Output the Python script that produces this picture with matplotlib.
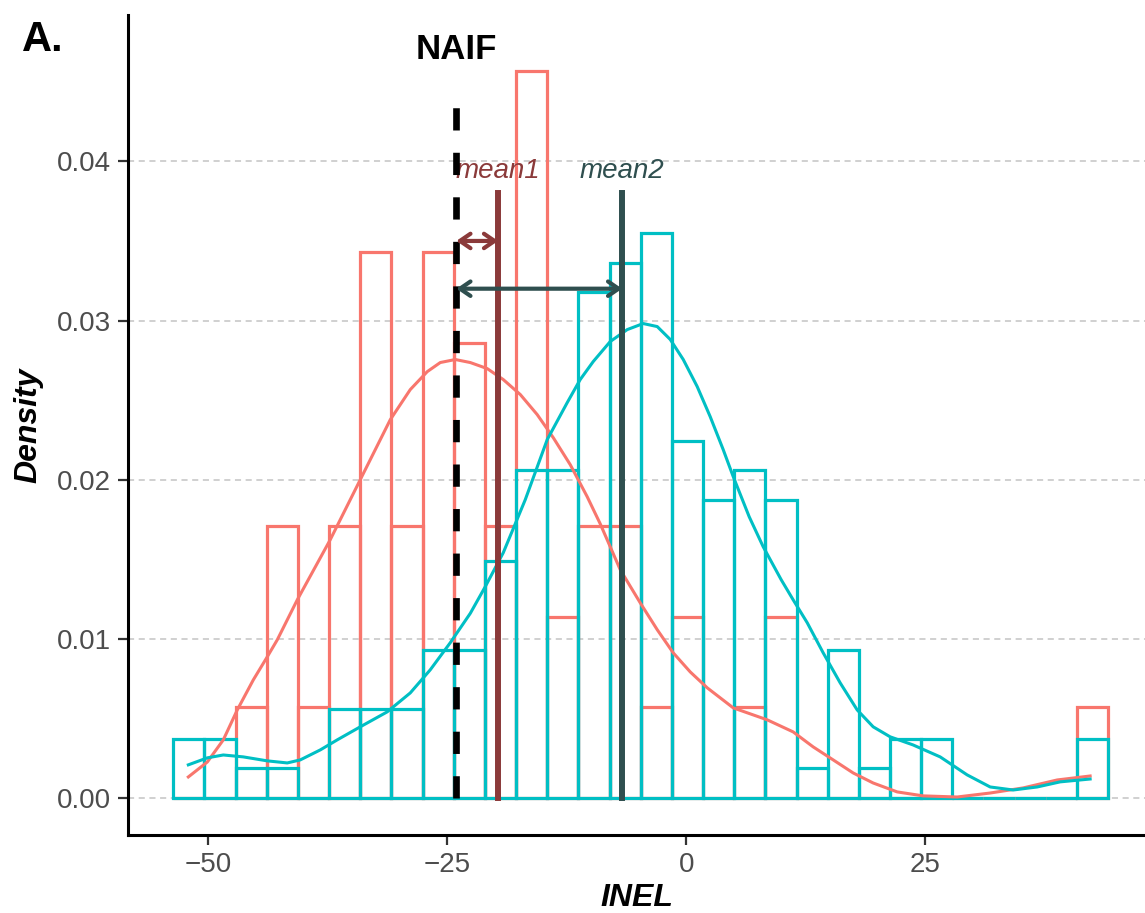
import numpy as np
import matplotlib
matplotlib.use('Agg')
import matplotlib.pyplot as plt

plt.rcParams['font.family'] = ['Liberation Sans', 'DejaVu Sans']

# histogram bins (30 bins, as in ggplot default)
bin_start = -53.66
bin_width = 3.26
hist_g1 = [0, 0, 0.0057, 0.0171, 0.0057, 0.0171, 0.0343, 0.0171, 0.0343, 0.0286,
           0.0171, 0.0457, 0.0114, 0.0171, 0.0171, 0.0057, 0.0114, 0, 0.0057, 0.0114,
           0, 0, 0, 0, 0, 0, 0, 0, 0, 0.0057]
hist_g2 = [0.0037, 0.0037, 0.0019, 0.0019, 0, 0.0056, 0.0056, 0.0056, 0.0093, 0.0093,
           0.0149, 0.0206, 0.0206, 0.0318, 0.0336, 0.0355, 0.0224, 0.0187, 0.0206, 0.0187,
           0.0019, 0.0093, 0.0019, 0.0037, 0.0037, 0, 0, 0, 0, 0.0037]

# density curves
dens_x1 = [-52.09, -50.10, -48.43, -46.97, -45.29, -43.83, -42.78, -40.69, -37.24,
           -34.10, -30.96, -28.87, -27.09, -25.73, -24.16, -22.59, -20.82, -19.14,
           -17.36, -15.59, -13.91, -12.13, -10.36, -9.00, -6.90, -4.81, -3.03, -1.36,
           0.42, 2.20, 4.92, 8.47, 11.19, 13.28, 15.38, 17.47, 19.56, 22.07, 24.79,
           28.35, 31.80, 35.25, 38.81, 42.26]
dens_y1 = [0.00132, 0.00226, 0.00365, 0.00553, 0.00742, 0.00887, 0.00994, 0.01245,
           0.01623, 0.02000, 0.02377, 0.02566, 0.02679, 0.02736, 0.02755, 0.02736,
           0.02698, 0.02629, 0.02535, 0.02409, 0.02264, 0.02094, 0.01893, 0.01723,
           0.01434, 0.01226, 0.01057, 0.00912, 0.00792, 0.00692, 0.00566, 0.00491,
           0.00415, 0.00321, 0.00239, 0.00157, 0.00094, 0.00038, 0.00013, 0.00006,
           0.00031, 0.00063, 0.00113, 0.00138]
dens_x2 = [-52.09, -50.10, -48.43, -46.34, -43.83, -41.74, -40.38, -38.28, -36.51,
           -34.10, -31.28, -28.87, -26.78, -24.69, -22.59, -21.03, -19.14, -16.84,
           -14.54, -12.45, -11.09, -9.73, -7.95, -6.17, -4.50, -3.03, -1.67, -0.31,
           1.15, 2.51, 3.87, 4.92, 6.59, 8.05, 9.94, 11.19, 12.66, 14.33, 16.11,
           17.89, 19.56, 21.34, 23.74, 26.57, 29.39, 31.80, 34.21, 36.72, 39.12, 42.26]
dens_y2 = [0.00208, 0.00252, 0.00270, 0.00258, 0.00233, 0.00220, 0.00239, 0.00302,
           0.00365, 0.00447, 0.00541, 0.00660, 0.00805, 0.00975, 0.01160, 0.01327,
           0.01541, 0.01874, 0.02252, 0.02484, 0.02629, 0.02742, 0.02868, 0.02943,
           0.02981, 0.02962, 0.02881, 0.02755, 0.02585, 0.02396, 0.02189, 0.02019,
           0.01767, 0.01579, 0.01371, 0.01245, 0.01101, 0.00912, 0.00723, 0.00553,
           0.00447, 0.00384, 0.00333, 0.00258, 0.00145, 0.00069, 0.00050, 0.00069,
           0.00101, 0.00119]

naif = -24.06
mean1 = -19.67
mean2 = -6.69

x_ticks = [-50, -25, 0, 25]
y_ticks = [0.00, 0.01, 0.02, 0.03, 0.04]

red = '#F8766D'
cyan = '#00BFC4'
brown = '#8B3A3A'
slate = '#2F4F4F'

fig = plt.figure(figsize=(11.45, 9.13), dpi=100)
ax = fig.add_axes([0.1118, 0.0854, 0.8882, 0.8982])

edges = bin_start + np.arange(len(hist_g1)) * bin_width
ax.bar(edges, hist_g1, width=bin_width, align='edge',
       fill=False, edgecolor=red, linewidth=2.3, zorder=2)
ax.bar(edges, hist_g2, width=bin_width, align='edge',
       fill=False, edgecolor=cyan, linewidth=2.3, zorder=2.1)

ax.plot(dens_x1, dens_y1, color=red, linewidth=2.2, zorder=3,
        solid_joinstyle='round')
ax.plot(dens_x2, dens_y2, color=cyan, linewidth=2.2, zorder=3.1,
        solid_joinstyle='round')

# reference lines
ax.plot([naif, naif], [0, 0.0435], color='black', linewidth=4.8,
        linestyle=(0, (3.34, 3.34)), zorder=4)
ax.plot([mean1, mean1], [0, 0.038], color=brown, linewidth=4.3, zorder=4)
ax.plot([mean2, mean2], [0, 0.038], color=slate, linewidth=4.3, zorder=4)

arrow_style = '<->,head_length=0.38,head_width=0.26'
ax.annotate('', xy=(mean1, 0.035), xytext=(naif, 0.035),
            arrowprops=dict(arrowstyle=arrow_style, color=brown, linewidth=3,
                            shrinkA=0, shrinkB=0, mutation_scale=20), zorder=5)
ax.annotate('', xy=(mean2, 0.032), xytext=(naif, 0.032),
            arrowprops=dict(arrowstyle=arrow_style, color=slate, linewidth=3,
                            shrinkA=0, shrinkB=0, mutation_scale=20), zorder=5)

ax.text(naif, 0.0470, 'NAIF', fontsize=25, fontweight='bold', ha='center',
        va='center', color='black')
ax.text(mean1, 0.0394, 'mean1', fontsize=20, fontstyle='italic', ha='center',
        va='center', color=brown)
ax.text(mean2, 0.0394, 'mean2', fontsize=20, fontstyle='italic', ha='center',
        va='center', color=slate)

ax.set_xlim(-58.4, 48.0)
ax.set_ylim(-0.00233, 0.0492)
ax.set_xticks(x_ticks)
ax.set_xticklabels([str(t).replace('-', '\u2212') for t in x_ticks])
ax.set_yticks(y_ticks)
ax.set_yticklabels(['%.2f' % t for t in y_ticks])
ax.tick_params(labelsize=20, labelcolor='#4D4D4D', color='#333333',
               length=7, width=1.6, pad=5)

ax.yaxis.grid(True, color='#C4C4C4', linewidth=1.1, linestyle=(0, (4, 3)))
ax.set_axisbelow(True)

for side in ['top', 'right']:
    ax.spines[side].set_visible(False)
for side in ['left', 'bottom']:
    ax.spines[side].set_linewidth(2.2)
    ax.spines[side].set_color('black')

ax.set_xlabel('INEL', fontsize=23, fontweight='bold', fontstyle='italic', labelpad=4)
ax.set_ylabel('Density', fontsize=23, fontweight='bold', fontstyle='italic', labelpad=10)

fig.text(0.019, 0.978, 'A.', fontsize=30, fontweight='bold', ha='left', va='top')

fig.savefig('out.png', dpi=100)
